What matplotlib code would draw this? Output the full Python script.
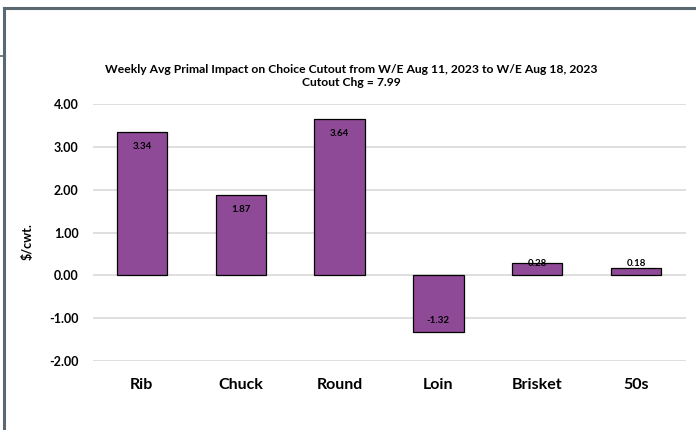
import matplotlib
matplotlib.use("Agg")
import matplotlib.pyplot as plt
from matplotlib.lines import Line2D

categories = ["Rib", "Chuck", "Round", "Loin", "Brisket", "50s"]
values = [3.34, 1.87, 3.64, -1.32, 0.28, 0.18]
yticks = [-2.0, -1.0, 0.0, 1.0, 2.0, 3.0, 4.0]
title = "Weekly Avg Primal Impact on Choice Cutout from W/E Aug 11, 2023 to W/E Aug 18, 2023\nCutout Chg = 7.99"
ylabel = "$/cwt."

plt.rcParams['font.family'] = ['Lato', 'DejaVu Sans']

W, H = 696, 430
fig = plt.figure(figsize=(W / 100, H / 100), dpi=100)
ax = fig.add_axes([92.5 / W, 1 - 361 / H, 593 / W, 257 / H])

x = list(range(len(categories)))
ax.bar(x, values, width=0.51, color="#8E4A96", edgecolor="black", linewidth=0.9, zorder=3)

for xi, v in zip(x, values):
    lbl = f"{v:.2f}"
    if v >= 0.5:
        ax.annotate(lbl, (xi, v), xytext=(0, -10), textcoords="offset points",
                    ha="center", va="center", fontsize=7, fontweight="bold", zorder=4)
    elif v < -0.5:
        ax.annotate(lbl, (xi, v), xytext=(0, 8), textcoords="offset points",
                    ha="center", va="center", fontsize=7, fontweight="bold", zorder=4)
    else:
        ax.annotate(lbl, (xi, max(v, 0.27)), ha="center", va="center",
                    fontsize=7, fontweight="bold", zorder=4)

ax.set_xlim(-0.5, len(categories) - 0.5)
ax.set_ylim(yticks[0], yticks[-1])
ax.set_yticks(yticks)
ax.set_yticklabels([f"{t:.2f}" for t in yticks], fontsize=9, fontweight="bold")
ax.set_xticks(x)
ax.set_xticklabels(categories, fontsize=11.5, fontweight="bold")
ax.tick_params(axis="both", length=0)
ax.tick_params(axis="y", pad=10)
ax.tick_params(axis="x", pad=12)
ax.grid(axis="y", color="#D9D9D9", linewidth=1.2, zorder=0)
for s in ax.spines.values():
    s.set_visible(False)

fig.text(28 / W, 1 - 242 / H, ylabel, rotation=90, ha="center", va="center",
         fontsize=9, fontweight="bold")
fig.text(351 / W, 1 - 76 / H, title, ha="center", va="center", fontsize=8.7,
         fontweight="bold", linespacing=1.3)

# chart frame
border = "#5A6872"
fig.add_artist(Line2D([4 / W, 1], [1 - 8 / H, 1 - 8 / H], color=border, linewidth=2.2,
                      transform=fig.transFigure))
fig.add_artist(Line2D([4 / W, 4 / W], [0, 1 - 8 / H], color=border, linewidth=2.2,
                      transform=fig.transFigure))
fig.add_artist(Line2D([0, 3 / W], [1 - 55.5 / H, 1 - 55.5 / H], color=border, linewidth=1.2,
                      transform=fig.transFigure))

fig.savefig("out.png", dpi=100)
